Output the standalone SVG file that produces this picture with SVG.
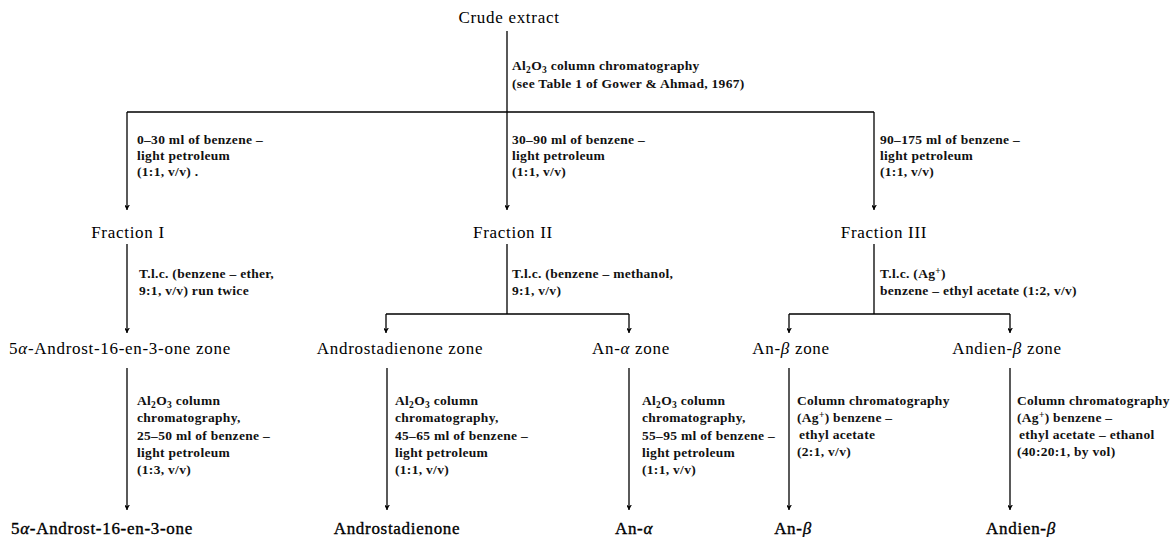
<svg xmlns="http://www.w3.org/2000/svg" width="1171" height="537" viewBox="0 0 1171 537">
<style>
.node{font-family:"Liberation Serif","Times New Roman",serif;font-size:17px;letter-spacing:0.7px;fill:#000;text-anchor:middle}
.fin{stroke:#000;stroke-width:0.35}
.lbl{font-family:"Liberation Serif","Times New Roman",serif;font-size:13.5px;font-weight:bold;letter-spacing:0.3px;fill:#111}
.ln{stroke:#000;stroke-width:1.3;fill:none}
.ar{marker-end:url(#arr)}
.gk{font-style:italic}
</style>
<defs>
<marker id="arr" markerWidth="10" markerHeight="10" viewBox="-5 -8 10 10" refX="0" refY="0" orient="auto-start-reverse" markerUnits="userSpaceOnUse">
<path d="M-3.6,-6.5 L0,0 L3.6,-6.5 L0,-3.5 Z" fill="#000" transform="rotate(-90)"/>
</marker>
</defs>
<rect width="1171" height="537" fill="#fff"/>
<g id="connectors">
<path class="ln" d="M507,31 V112 M127,112 H874"/>
<path class="ln ar" d="M127,112 V210"/>
<path class="ln ar" d="M507,112 V210"/>
<path class="ln ar" d="M874,112 V210"/>
<path class="ln ar" d="M127,244 V333"/>
<path class="ln" d="M507,244 V314 M386,314 H629"/>
<path class="ln ar" d="M386,314 V333"/>
<path class="ln ar" d="M629,314 V333"/>
<path class="ln" d="M874,244 V314 M789,314 H1010"/>
<path class="ln ar" d="M789,314 V333"/>
<path class="ln ar" d="M1010,314 V333"/>
<path class="ln ar" d="M127,368 V510"/>
<path class="ln ar" d="M387,368 V510"/>
<path class="ln ar" d="M629,368 V510"/>
<path class="ln ar" d="M789,368 V510"/>
<path class="ln ar" d="M1010,368 V510"/>
</g>
<g id="labels">
<text class="lbl" x="512" y="70">Al<tspan font-size="9.5" dy="3">2</tspan><tspan dy="-3">O</tspan><tspan font-size="9.5" dy="3">3</tspan><tspan dy="-3"> column chromatography</tspan></text>
<text class="lbl" x="512" y="88">(see Table 1 of Gower &amp; Ahmad, 1967)</text>
<text class="lbl" x="137" y="144">0–30 ml of benzene –</text>
<text class="lbl" x="137" y="160">light petroleum</text>
<text class="lbl" x="137" y="176">(1:1, v/v) .</text>
<text class="lbl" x="512" y="144">30–90 ml of benzene –</text>
<text class="lbl" x="512" y="160">light petroleum</text>
<text class="lbl" x="512" y="176">(1:1, v/v)</text>
<text class="lbl" x="880" y="144">90–175 ml of benzene –</text>
<text class="lbl" x="880" y="160">light petroleum</text>
<text class="lbl" x="880" y="176">(1:1, v/v)</text>
<text class="lbl" x="139" y="278">T.l.c. (benzene – ether,</text>
<text class="lbl" x="139" y="295">9:1, v/v) run twice</text>
<text class="lbl" x="512" y="278">T.l.c. (benzene – methanol,</text>
<text class="lbl" x="512" y="295">9:1, v/v)</text>
<text class="lbl" x="880" y="278">T.l.c. (Ag<tspan font-size="9.5" dy="-4">+</tspan><tspan dy="4">)</tspan></text>
<text class="lbl" x="880" y="295">benzene – ethyl acetate (1:2, v/v)</text>
<text class="lbl" x="137" y="405">Al<tspan font-size="9.5" dy="3">2</tspan><tspan dy="-3">O</tspan><tspan font-size="9.5" dy="3">3</tspan><tspan dy="-3"> column</tspan></text>
<text class="lbl" x="137" y="422">chromatography,</text>
<text class="lbl" x="137" y="440">25–50 ml of benzene –</text>
<text class="lbl" x="137" y="457">light petroleum</text>
<text class="lbl" x="137" y="474">(1:3, v/v)</text>
<text class="lbl" x="395" y="405">Al<tspan font-size="9.5" dy="3">2</tspan><tspan dy="-3">O</tspan><tspan font-size="9.5" dy="3">3</tspan><tspan dy="-3"> column</tspan></text>
<text class="lbl" x="395" y="422">chromatography,</text>
<text class="lbl" x="395" y="440">45–65 ml of benzene –</text>
<text class="lbl" x="395" y="457">light petroleum</text>
<text class="lbl" x="395" y="474">(1:1, v/v)</text>
<text class="lbl" x="642" y="405">Al<tspan font-size="9.5" dy="3">2</tspan><tspan dy="-3">O</tspan><tspan font-size="9.5" dy="3">3</tspan><tspan dy="-3"> column</tspan></text>
<text class="lbl" x="642" y="422">chromatography,</text>
<text class="lbl" x="642" y="440">55–95 ml of benzene –</text>
<text class="lbl" x="642" y="457">light petroleum</text>
<text class="lbl" x="642" y="474">(1:1, v/v)</text>
<text class="lbl" x="797" y="405">Column chromatography</text>
<text class="lbl" x="797" y="422">(Ag<tspan font-size="9.5" dy="-4">+</tspan><tspan dy="4">) benzene –</tspan></text>
<text class="lbl" x="799" y="439">ethyl acetate</text>
<text class="lbl" x="797" y="456">(2:1, v/v)</text>
<text class="lbl" x="1017" y="405">Column chromatography</text>
<text class="lbl" x="1017" y="422">(Ag<tspan font-size="9.5" dy="-4">+</tspan><tspan dy="4">) benzene –</tspan></text>
<text class="lbl" x="1019" y="439">ethyl acetate – ethanol</text>
<text class="lbl" x="1017" y="456">(40:20:1, by vol)</text>
</g>
<g id="crude"><text class="node" x="509" y="23">Crude extract</text></g>
<g id="fraction-1"><text class="node" x="128" y="238">Fraction I</text></g>
<g id="fraction-2"><text class="node" x="513" y="238">Fraction II</text></g>
<g id="fraction-3"><text class="node" x="884" y="238">Fraction III</text></g>
<g id="zone-androstenone"><text class="node" x="120" y="354">5<tspan class="gk">α</tspan>-Androst-16-en-3-one zone</text></g>
<g id="zone-androstadienone"><text class="node" x="400" y="354">Androstadienone zone</text></g>
<g id="zone-an-alpha"><text class="node" x="631" y="354">An-<tspan class="gk">α</tspan> zone</text></g>
<g id="zone-an-beta"><text class="node" x="791" y="354">An-<tspan class="gk">β</tspan> zone</text></g>
<g id="zone-andien-beta"><text class="node" x="1007" y="354">Andien-<tspan class="gk">β</tspan> zone</text></g>
<g id="androstenone"><text class="node fin" x="102" y="534">5<tspan class="gk">α</tspan>-Androst-16-en-3-one</text></g>
<g id="androstadienone"><text class="node fin" x="397" y="534">Androstadienone</text></g>
<g id="an-alpha"><text class="node fin" x="634" y="534">An-<tspan class="gk">α</tspan></text></g>
<g id="an-beta"><text class="node fin" x="793" y="534">An-<tspan class="gk">β</tspan></text></g>
<g id="andien-beta"><text class="node fin" x="1021" y="534">Andien-<tspan class="gk">β</tspan></text></g>
</svg>
